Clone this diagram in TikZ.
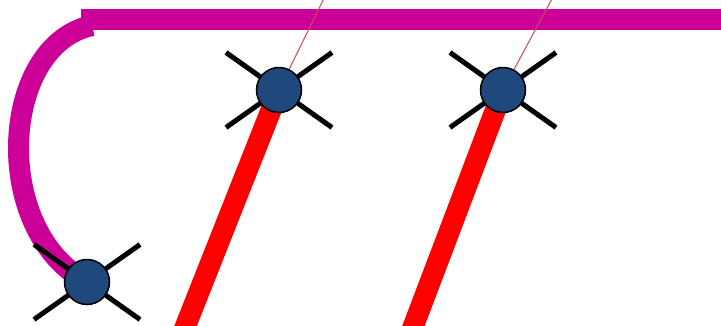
\documentclass[tikz,border=0pt]{standalone}
\usepackage{xcolor}
\usepackage{tikz}
\usetikzlibrary{calc,backgrounds}
\definecolor{BarMagenta}{HTML}{CC0099}
\definecolor{JointBlue}{HTML}{1F497D}
\definecolor{ThinRed}{HTML}{C0504D}
\definecolor{LinkRed}{HTML}{FF0000}
\tikzset{
  joint/.style={circle,minimum size=45pt,inner sep=0pt,
                fill=JointBlue,draw=black,line width=1.5pt},
  crossarm/.style={draw=black,line width=5pt},
  bar/.style={draw=BarMagenta,line width=21pt},
  link/.style={draw=LinkRed,line width=21pt},
  thin/.style={draw=ThinRed,line width=1pt}
}
\begin{document}
\begin{tikzpicture}[x=1pt,y=-1pt]
  \useasboundingbox (0,0) rectangle (721,325);
  \clip (0,0) rectangle (721,325);
  \node[joint] (j1) at (87,282) {};
  \node[joint] (j2) at (279,90) {};
  \node[joint] (j3) at (503,90) {};
  \coordinate (barL) at (81,19.7);
  \coordinate (barR) at (730,19.7);
  \coordinate (arcS) at (92,25.5);
  \coordinate (t2) at (332,-18);
  \coordinate (t3) at (561,-18);
  \coordinate (r2) at (182,335);
  \coordinate (r3) at (410,335);
  \begin{scope}[on background layer]
    \draw[bar] (barL) -- (barR);
    \draw[bar] (arcS) .. controls (0,45) and (-10,230) .. (j1.center);
    \draw[thin] (j2.center) -- (t2);
    \draw[thin] (j3.center) -- (t3);
    \draw[link] (j2.center) -- (r2);
    \draw[link] (j3.center) -- (r3);
    \foreach \j in {j1,j2,j3}{
      \draw[crossarm] (\j.center) ++(-53,-37.5) -- ++(106,75);
      \draw[crossarm] (\j.center) ++(-53,37.5) -- ++(106,-75);
    }
  \end{scope}
\end{tikzpicture}
\end{document}
